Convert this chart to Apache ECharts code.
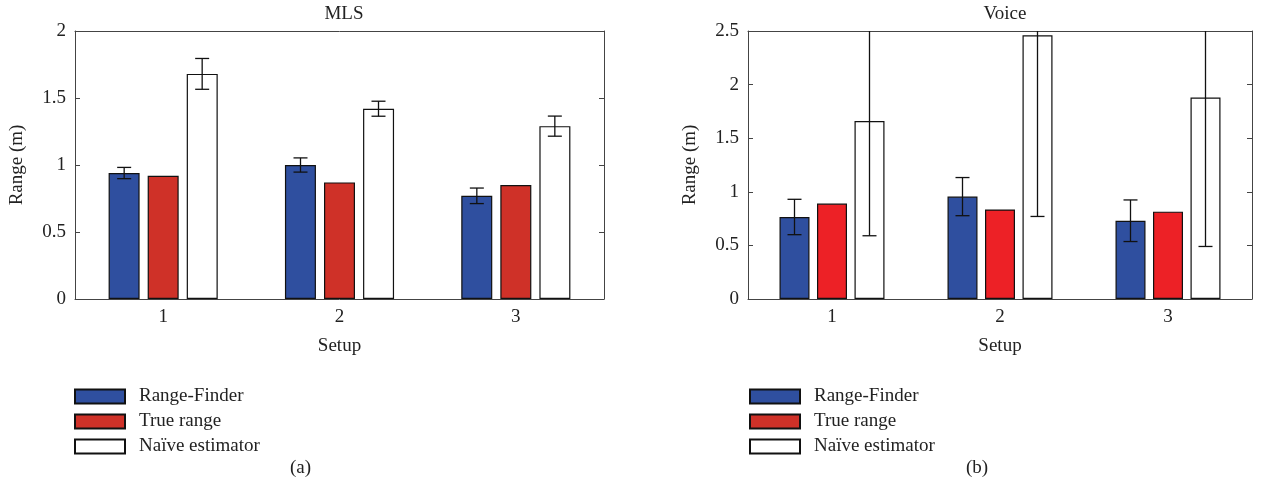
<!DOCTYPE html>
<html>
<head>
<meta charset="utf-8">
<script src="https://cdn.jsdelivr.net/npm/echarts@6/dist/echarts.min.js"></script>
<style>
  html, body { margin: 0; background: #fff; }
  #chart { width: 1279px; height: 488px; }
</style>
</head>
<body>
<div id="chart"></div>
<script>
// data
const setups = ['1', '2', '3']
const names = ['Range-Finder', 'True range', 'Naïve estimator']

const mlsFinder = [0.94, 1.00, 0.77]
const mlsFinderErr = [0.042, 0.053, 0.058]
const mlsTrue = [0.92, 0.87, 0.85]
const mlsNaive = [1.68, 1.42, 1.29]
const mlsNaiveErr = [0.115, 0.056, 0.075]

const voiceFinder = [0.765, 0.955, 0.73]
const voiceFinderErr = [0.165, 0.178, 0.194]
const voiceTrue = [0.89, 0.835, 0.815]
const voiceNaive = [1.66, 2.46, 1.88]
const voiceNaiveErr = [1.07, 1.69, 1.39]

const FONT = '"Liberation Serif", "DejaVu Serif", serif'
const AXIS = '#444'
const BLUE = '#2f4f9f'
const RED_A = '#cf3128'
const RED_B = '#ed2126'

const chart = echarts.init(document.getElementById('chart'))

function errorBars(offset, ymax) {
  return function (params, api) {
    const i = api.value(0)
    const m = api.value(1)
    const e = api.value(2)
    const hi = Math.min(m + e, ymax)
    const top = api.coord([i, hi])
    const bot = api.coord([i, m - e])
    const x = top[0] + offset
    const half = 7
    const style = { stroke: '#111', lineWidth: 1.3 }
    const children = [
      { type: 'line', shape: { x1: x, y1: top[1], x2: x, y2: bot[1] }, style },
      { type: 'line', shape: { x1: x - half, y1: bot[1], x2: x + half, y2: bot[1] }, style }
    ]
    if (m + e <= ymax) {
      children.push({ type: 'line', shape: { x1: x - half, y1: top[1], x2: x + half, y2: top[1] }, style })
    }
    return { type: 'group', children }
  }
}

function rows(vals, errs) {
  return vals.map((v, i) => [i, v, errs[i]])
}

function xAxes(g) {
  return [
    {
      type: 'category', data: setups, gridIndex: g, position: 'bottom',
      axisLine: { onZero: false, lineStyle: { color: AXIS } },
      axisTick: { inside: true, alignWithLabel: true, length: 5, lineStyle: { color: AXIS } },
      axisLabel: { fontFamily: FONT, fontSize: 19, color: '#222', margin: 9 },
      name: 'Setup', nameLocation: 'middle', nameGap: 38,
      nameTextStyle: { fontFamily: FONT, fontSize: 19, color: '#222' }
    },
    {
      type: 'category', data: setups, gridIndex: g, position: 'top',
      axisLine: { onZero: false, lineStyle: { color: AXIS } },
      axisTick: { inside: true, alignWithLabel: true, length: 5, lineStyle: { color: AXIS } },
      axisLabel: { show: false }
    }
  ]
}

function yAxes(g, max) {
  return [
    {
      type: 'value', gridIndex: g, min: 0, max: max, interval: 0.5, position: 'left',
      axisLine: { show: true, onZero: false, lineStyle: { color: AXIS } },
      axisTick: { show: true, inside: true, length: 5, lineStyle: { color: AXIS } },
      splitLine: { show: false },
      axisLabel: { fontFamily: FONT, fontSize: 19, color: '#222', margin: 9 },
      name: 'Range (m)', nameLocation: 'middle', nameGap: 48,
      nameTextStyle: { fontFamily: FONT, fontSize: 19, color: '#222' }
    },
    {
      type: 'value', gridIndex: g, min: 0, max: max, interval: 0.5, position: 'right',
      axisLine: { show: true, onZero: false, lineStyle: { color: AXIS } },
      axisTick: { show: true, inside: true, length: 5, lineStyle: { color: AXIS } },
      splitLine: { show: false },
      axisLabel: { show: false }
    }
  ]
}

function bars(g, w, gap, vals, color) {
  return {
    type: 'bar', xAxisIndex: g * 2, yAxisIndex: g * 2,
    barWidth: w, barGap: gap, data: vals,
    itemStyle: { color: color, borderColor: '#111', borderWidth: 1.2 }
  }
}

function legend(left) {
  return {
    data: names, orient: 'vertical', left: left, top: 387, padding: 0,
    icon: 'rect', itemWidth: 50, itemHeight: 14, itemGap: 6,
    selectedMode: false,
    textStyle: { fontFamily: FONT, fontSize: 19, color: '#222', padding: [0, 0, 0, 9] }
  }
}

chart.setOption({
  animation: false,
  title: [
    { text: 'MLS', left: 339, top: 0, textAlign: 'center',
      textStyle: { fontFamily: FONT, fontSize: 19, fontWeight: 'normal', color: '#222' } },
    { text: 'Voice', left: 1000, top: 0, textAlign: 'center',
      textStyle: { fontFamily: FONT, fontSize: 19, fontWeight: 'normal', color: '#222' } }
  ],
  legend: [legend(74), legend(749)],
  grid: [
    { left: 75, top: 31, width: 529, height: 268 },
    { left: 748, top: 31, width: 504, height: 268 }
  ],
  xAxis: xAxes(0).concat(xAxes(1)),
  yAxis: yAxes(0, 2).concat(yAxes(1, 2.5)),
  graphic: [
    { type: 'text', left: 290, top: 459, style: { text: '(a)', font: '19px ' + FONT, fill: '#222' } },
    { type: 'text', left: 966, top: 459, style: { text: '(b)', font: '19px ' + FONT, fill: '#222' } }
  ],
  series: [
    Object.assign(bars(0, 31, '26%', mlsFinder, BLUE), { name: names[0] }),
    Object.assign(bars(0, 31, '26%', mlsTrue, RED_A), { name: names[1] }),
    Object.assign(bars(0, 31, '26%', mlsNaive, '#fff'), { name: names[2] }),
    {
      type: 'custom', xAxisIndex: 0, yAxisIndex: 0, z: 5,
      renderItem: errorBars(-39, 2), encode: { x: 0, y: 1 },
      data: rows(mlsFinder, mlsFinderErr)
    },
    {
      type: 'custom', xAxisIndex: 0, yAxisIndex: 0, z: 5,
      renderItem: errorBars(39, 2), encode: { x: 0, y: 1 },
      data: rows(mlsNaive, mlsNaiveErr)
    },
    Object.assign(bars(1, 30, '25%', voiceFinder, BLUE), { name: names[0] }),
    Object.assign(bars(1, 30, '25%', voiceTrue, RED_B), { name: names[1] }),
    Object.assign(bars(1, 30, '25%', voiceNaive, '#fff'), { name: names[2] }),
    {
      type: 'custom', xAxisIndex: 2, yAxisIndex: 2, z: 5,
      renderItem: errorBars(-37.5, 2.5), encode: { x: 0, y: 1 },
      data: rows(voiceFinder, voiceFinderErr)
    },
    {
      type: 'custom', xAxisIndex: 2, yAxisIndex: 2, z: 5,
      renderItem: errorBars(37.5, 2.5), encode: { x: 0, y: 1 },
      data: rows(voiceNaive, voiceNaiveErr)
    }
  ]
})
</script>
</body>
</html>
